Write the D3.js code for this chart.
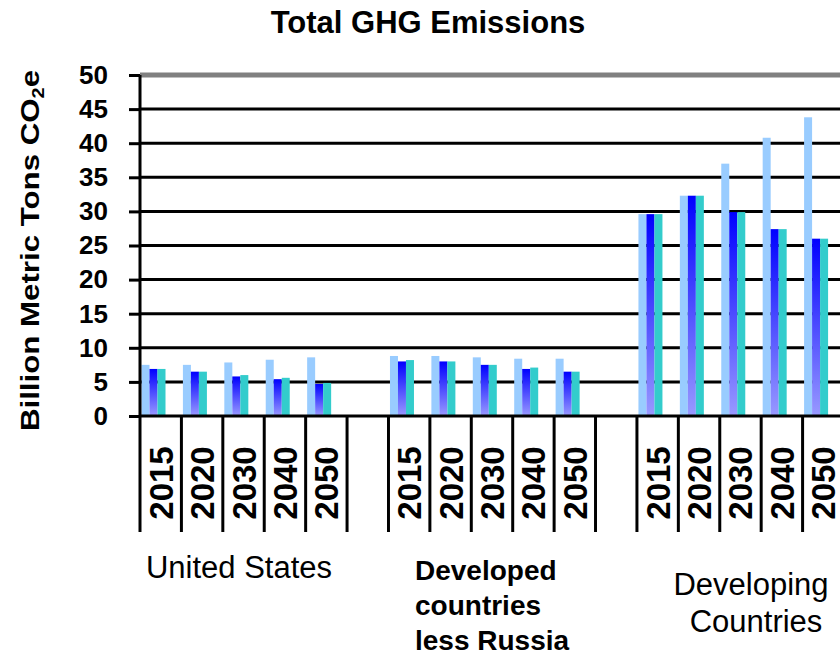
<!DOCTYPE html>
<html><head><meta charset="utf-8">
<script src="https://cdn.jsdelivr.net/npm/d3@7"></script>
<style>body{margin:0;background:#fff}svg{display:block;font-family:"Liberation Sans",Arial,sans-serif}</style>
</head><body>
<svg id="chart" width="840" height="655"></svg>
<script>
// ---- data ----
const groups = ["United States", "Developed countries less Russia", "Developing Countries"];
const years = ["2015", "2020", "2030", "2040", "2050"];
const seriesLight = [7.5, 7.5, 7.85, 8.25, 8.6,   8.8, 8.8, 8.6, 8.4, 8.4,   29.6, 32.3, 37.0, 40.8, 43.8];
const seriesBlue  = [6.9, 6.5, 5.8, 5.4, 4.7,     8.0, 8.0, 7.5, 6.9, 6.5,   29.6, 32.3, 29.9, 27.4, 26.0];
const seriesTeal  = [6.9, 6.5, 6.0, 5.6, 4.85,    8.2, 8.0, 7.5, 7.1, 6.5,   29.6, 32.3, 29.9, 27.4, 26.0];
const yTicks = [0, 5, 10, 15, 20, 25, 30, 35, 40, 45, 50];
const titleText = "Total GHG Emissions";

// ---- layout ----
const svg = d3.select("#chart");
const mLeft = 140, mRight = 844, mTop = 75, mBottom = 416;

// slots: 5 years per group with one empty slot between groups
const slots = [];
groups.forEach((g, gi) => {
  years.forEach(yr => slots.push({key: gi + "-" + yr, group: gi, year: yr}));
  if (gi < groups.length - 1) slots.push({key: "gap" + gi, group: gi, year: null});
});
const x = d3.scaleBand().domain(slots.map(s => s.key)).range([mLeft, mRight]).padding(0);
const y = d3.scaleLinear().domain([0, 50]).range([mBottom, mTop]);

const data = [];
let idx = 0;
slots.forEach(s => {
  if (s.year) { data.push({key: s.key, a: seriesLight[idx], b: seriesBlue[idx], c: seriesTeal[idx]}); idx++; }
});

// gradient for blue series
const defs = svg.append("defs");
const grad = defs.append("linearGradient").attr("id", "blueGrad")
  .attr("x1", 0).attr("y1", 0).attr("x2", 0).attr("y2", 1);
grad.append("stop").attr("offset", "0%").attr("stop-color", "#0000ff");
grad.append("stop").attr("offset", "100%").attr("stop-color", "#9999ff");

// gridlines
svg.append("g").selectAll("line").data(yTicks.filter(v => v > 0)).join("line")
  .attr("x1", mLeft).attr("x2", 840)
  .attr("y1", d => y(d)).attr("y2", d => y(d))
  .attr("stroke", d => d === 50 ? "#808080" : "#000")
  .attr("stroke-width", d => d === 50 ? 5 : 3);

// bars
const bw = 8, off = 1.5;
const bars = svg.append("g");
const series = [
  {k: "a", fill: "#99ccff", i: 0},
  {k: "b", fill: "url(#blueGrad)", i: 1},
  {k: "c", fill: "#33cccc", i: 2}
];
series.forEach(s => {
  bars.append("g").selectAll("rect").data(data).join("rect")
    .attr("x", d => x(d.key) + off + s.i * bw)
    .attr("width", bw)
    .attr("y", d => y(d[s.k]))
    .attr("height", d => y(0) - y(d[s.k]))
    .attr("fill", s.fill);
});

// x axis line
svg.append("line").attr("x1", mLeft).attr("x2", 840).attr("y1", y(0)).attr("y2", y(0))
  .attr("stroke", "#000").attr("stroke-width", 3);

// x boundary ticks
const bounds = slots.map(s => x(s.key)).concat([mRight]);
svg.append("g").selectAll("line").data(bounds).join("line")
  .attr("x1", d => d).attr("x2", d => d)
  .attr("y1", y(0)).attr("y2", 532)
  .attr("stroke", "#000").attr("stroke-width", 3);

// y axis
const yAxis = d3.axisLeft(y).tickValues(yTicks).tickSize(11).tickPadding(21);
const ga = svg.append("g").attr("transform", `translate(${mLeft},0)`).call(yAxis);
ga.select(".domain").attr("stroke", "#000").attr("stroke-width", 3).attr("d", `M0,${y(50)}V${y(0)}`);
ga.selectAll(".tick line").attr("stroke", "#000").attr("stroke-width", 3);
ga.selectAll(".tick text").attr("font-size", 26).attr("font-weight", "bold")
  .attr("fill", "#000").attr("font-family", "Liberation Sans, Arial, sans-serif");

// year labels
svg.append("g").selectAll("text").data(slots.filter(s => s.year)).join("text")
  .attr("transform", d => `translate(${x(d.key) + x.bandwidth() / 2 + 12},483) rotate(-90)`)
  .attr("text-anchor", "middle").attr("font-size", 33).attr("font-weight", "bold")
  .text(d => d.year);

// title
svg.append("text").attr("x", 428).attr("y", 33).attr("text-anchor", "middle")
  .attr("font-size", 31).attr("font-weight", "bold").text(titleText);

// y title
const yt = svg.append("text")
  .attr("transform", "translate(38.5,250.5) rotate(-90) scale(1.25,1)")
  .attr("text-anchor", "middle").attr("font-size", 25).attr("font-weight", "bold");
yt.append("tspan").text("Billion Metric Tons CO");
yt.append("tspan").attr("font-size", 16).attr("dy", 5).text("2");
yt.append("tspan").attr("dy", -5).text("e");

// group labels
svg.append("text").attr("x", 239).attr("y", 578).attr("text-anchor", "middle")
  .attr("font-size", 31).text(groups[0]);
const g2 = svg.append("text").attr("font-size", 28).attr("font-weight", "bold");
["Developed", "countries", "less Russia"].forEach((t, i) =>
  g2.append("tspan").attr("x", 415).attr("y", 580 + i * 35).text(t));
const g3 = svg.append("text").attr("font-size", 31).attr("text-anchor", "middle");
["Developing", "Countries"].forEach((t, i) =>
  g3.append("tspan").attr("x", i === 0 ? 751 : 756).attr("y", 595 + i * 37).text(t));
</script>
</body></html>
